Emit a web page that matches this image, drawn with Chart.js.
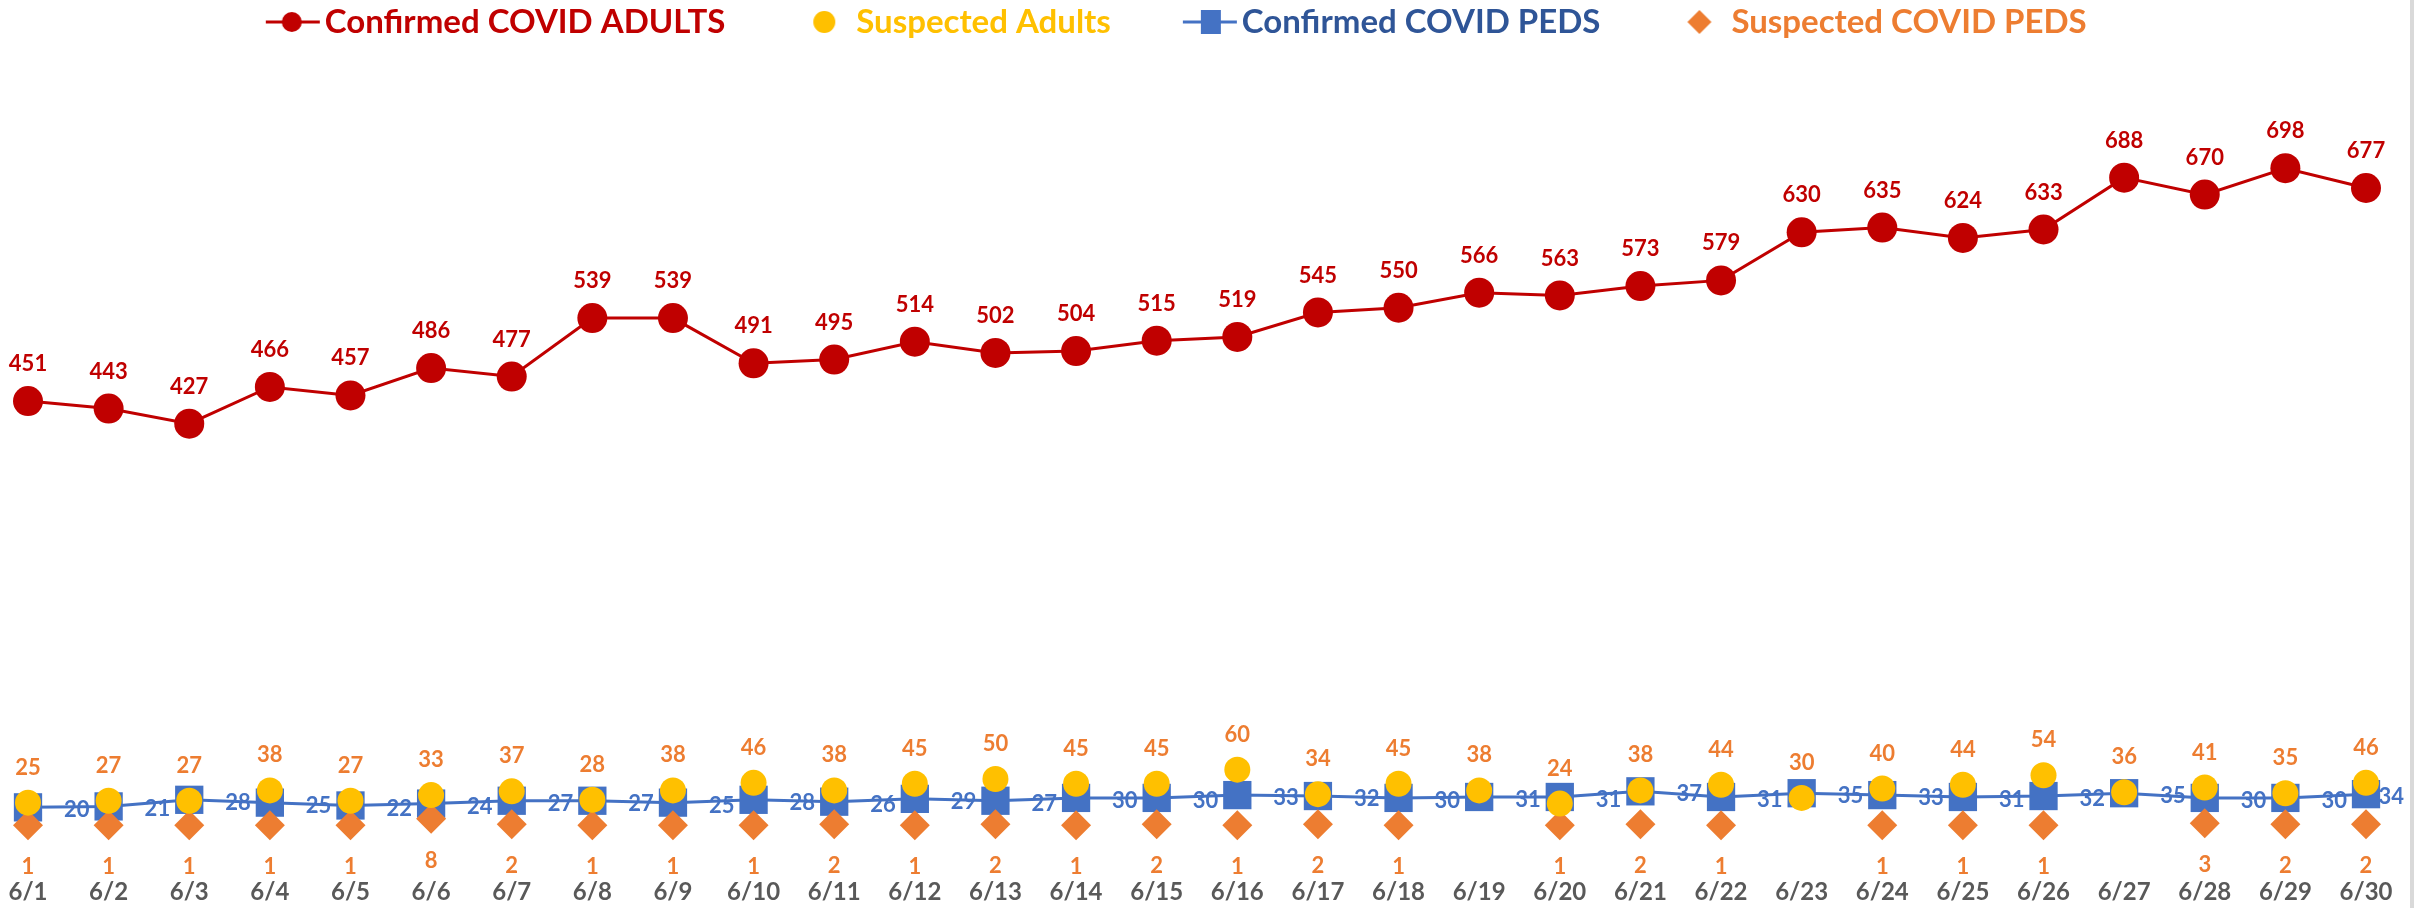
<!DOCTYPE html>
<html lang="en">
<head>
<meta charset="UTF-8">
<title>June census</title>
<style>
  body{margin:0;background:#fff}
  #wrap{position:relative;width:2422px;height:908px}
  #edge{position:absolute;left:2410px;top:0;width:4px;height:908px;background:#d9d9d9}
</style>
</head>
<body>
<div id="wrap">
  <canvas id="chart"></canvas>
  <div id="edge"></div>
</div>
<script src="https://cdn.jsdelivr.net/npm/chart.js"></script>
<script>
// values
const days = ['6/1','6/2','6/3','6/4','6/5','6/6','6/7','6/8','6/9','6/10','6/11','6/12','6/13','6/14','6/15',
  '6/16','6/17','6/18','6/19','6/20','6/21','6/22','6/23','6/24','6/25','6/26','6/27','6/28','6/29','6/30']
const confirmedAdults = [451,443,427,466,457,486,477,539,539,491,495,514,502,504,515,519,545,550,566,563,573,579,630,635,624,633,688,670,698,677]
const suspectedAdults = [25,27,27,38,27,33,37,28,38,46,38,45,50,45,45,60,34,45,38,24,38,44,30,40,44,54,36,41,35,46]
const confirmedPeds = [20,21,28,25,22,24,27,27,25,28,26,29,27,30,30,33,32,30,31,31,37,31,35,33,31,32,35,30,30,34]
const suspectedPeds = [1,1,1,1,1,8,2,1,1,1,2,1,2,1,2,1,2,1,null,1,2,1,null,1,1,1,null,3,2,2]

const RED='#C00000', YEL='#FFC000', BLUE='#4472C4', ORG='#ED7D31'
const FONT='Lato'

// legend icons (line + marker) on small canvases, text starts at T
function icon(kind){
  const c=document.createElement('canvas'); c.width=160; c.height=40
  const g=c.getContext('2d'), T=97
  if(kind=='red'||kind=='blue'){
    g.strokeStyle=kind=='red'?RED:BLUE; g.lineWidth=3
    g.beginPath(); g.moveTo(T-59,20); g.lineTo(T-5,20); g.stroke()
  }
  if(kind=='red'){g.fillStyle=RED;g.beginPath();g.arc(T-33,20,10,0,Math.PI*2);g.fill()}
  if(kind=='yel'){g.fillStyle=YEL;g.beginPath();g.arc(T-32,20,11,0,Math.PI*2);g.fill()}
  if(kind=='blue'){g.fillStyle=BLUE;g.fillRect(T-31-10,20-12,20,24)}
  if(kind=='org'){g.fillStyle=ORG;g.beginPath();g.moveTo(T-32,8);g.lineTo(T-20,20);g.lineTo(T-32,32);g.lineTo(T-44,20);g.closePath();g.fill()}
  return c
}
const legendIcons=[icon('red'),icon('yel'),icon('blue'),icon('org')]
const legendText=[RED,YEL,'#2F5597',ORG]

// value labels placed like the spreadsheet did
const labelSpots=[
  {color:RED, dx:0, dy:-37, align:'center'},
  {color:ORG, dx:0, dy:-35, align:'center'},
  {color:BLUE, dx:36, dy:3, align:'left'},
  {color:ORG, dx:0, dy:42, align:'center'}
]
const valueLabels={
  id:'valueLabels',
  afterDatasetsDraw(chart){
    const ctx=chart.ctx
    ctx.save()
    ctx.font='bold 22px '+FONT
    ctx.textBaseline='middle'
    const maxRight=chart.width-18
    chart.data.datasets.forEach((ds,i)=>{
      const meta=chart.getDatasetMeta(i), s=labelSpots[i]
      ctx.fillStyle=s.color; ctx.textAlign=s.align
      meta.data.forEach((pt,j)=>{
        if(ds.data[j]==null) return
        const txt=String(ds.data[j])
        let x=pt.x+s.dx
        // keep right-hand labels inside the frame
        if(s.align=='left'){const w=ctx.measureText(txt).width; if(x+w>maxRight) x=maxRight-w}
        ctx.fillText(txt,x,pt.y+s.dy)
      })
    })
    ctx.restore()
  }
}

new Chart(document.getElementById('chart'),{
  type:'line',
  data:{
    labels:days,
    datasets:[
      {label:'Confirmed COVID ADULTS',data:confirmedAdults,order:0,borderColor:RED,backgroundColor:RED,borderWidth:3,
        pointStyle:'circle',pointRadius:15,pointBorderWidth:0,clip:false},
      {label:'Suspected Adults',data:suspectedAdults,order:1,showLine:false,borderColor:YEL,backgroundColor:YEL,
        pointStyle:'circle',pointRadius:13,pointBorderWidth:0,clip:false},
      {label:'Confirmed COVID PEDS',data:confirmedPeds,order:3,borderColor:BLUE,backgroundColor:BLUE,borderWidth:3,
        pointStyle:'rect',pointRadius:20,pointBorderWidth:0,clip:false},
      {label:'Suspected COVID PEDS',data:suspectedPeds,order:2,showLine:false,borderColor:ORG,backgroundColor:ORG,
        pointStyle:'rectRot',pointRadius:15,pointBorderWidth:0,clip:false}
    ]
  },
  options:{
    responsive:true,maintainAspectRatio:false,animation:false,
    events:[],
    layout:{autoPadding:false,padding:{left:28,right:56,top:-108,bottom:0}},
    elements:{line:{tension:0}},
    plugins:{
      tooltip:{enabled:false},
      legend:{
        position:'top',
        labels:{
          usePointStyle:true,pointStyleWidth:1,padding:113.5,
          font:{family:FONT,size:33,weight:'bold'},
          sort:(a,b)=>a.datasetIndex-b.datasetIndex,
          generateLabels(chart){
            const items=Chart.defaults.plugins.legend.labels.generateLabels(chart)
            items.forEach(it=>{it.pointStyle=legendIcons[it.datasetIndex];it.fontColor=legendText[it.datasetIndex]})
            return items
          }
        }
      }
    },
    scales:{
      x:{offset:false,
        grid:{display:true,drawOnChartArea:false,drawTicks:true,tickLength:51,color:'rgba(0,0,0,0)'},
        border:{display:false},
        ticks:{autoSkip:false,maxRotation:0,padding:1,color:'#595959',font:{family:FONT,size:24,weight:'bold'}}},
      y:{display:false,min:0,max:825}
    }
  },
  plugins:[valueLabels]
})
</script>
</body>
</html>
